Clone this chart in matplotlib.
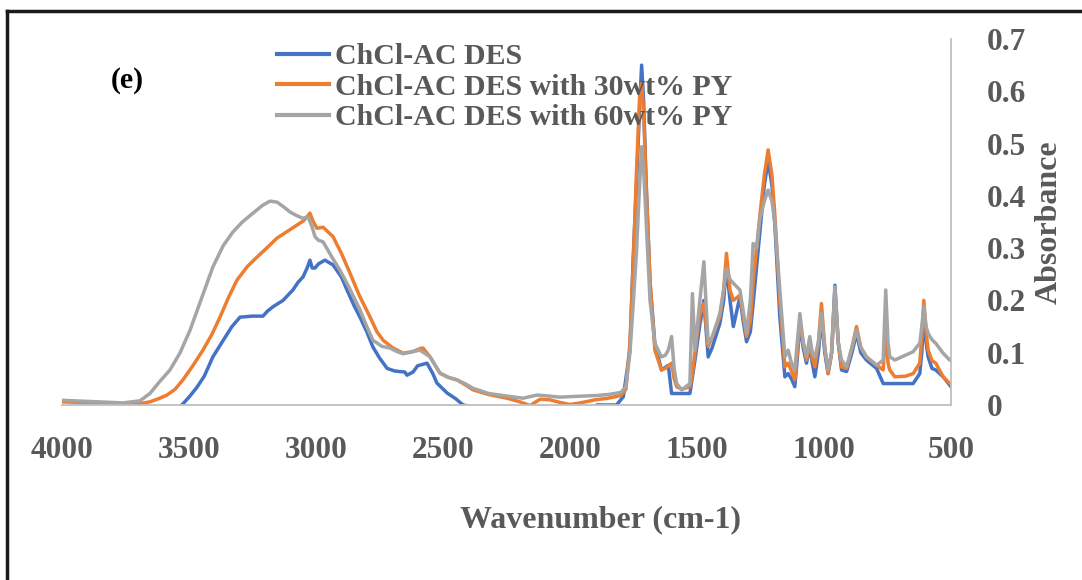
import matplotlib
matplotlib.use("Agg")
import matplotlib.pyplot as plt
from matplotlib.lines import Line2D
import numpy as np

# ---------- data
wn_blue = [4000, 3600, 3528, 3500, 3470, 3440, 3406, 3370, 3331, 3299, 3250,
           3209, 3190, 3169, 3130, 3091, 3070, 3051, 3035, 3024, 3015, 3004,
           2990, 2965, 2933, 2900, 2878, 2850, 2827, 2800, 2776, 2750, 2720,
           2690, 2650, 2642, 2618, 2600, 2563, 2540, 2524, 2484, 2450, 2421,
           2366, 2300, 1950, 1895, 1817, 1790, 1764, 1751, 1738, 1725, 1718,
           1710, 1701, 1685, 1666, 1640, 1613, 1600, 1567, 1528, 1508, 1490,
           1473, 1456, 1440, 1410, 1395, 1384, 1370, 1357, 1331, 1318, 1305,
           1290, 1279, 1253, 1235, 1220, 1205, 1193, 1174, 1154, 1141, 1128,
           1115, 1105, 1095, 1082, 1069, 1056, 1046, 1036, 1022, 1010, 997,
           984, 970, 957, 944, 931, 911, 890, 872, 855, 833, 793, 775, 767,
           721, 649, 623, 615, 607, 598, 590, 575, 560, 531, 505, 500]
abs_blue = [-0.04, -0.03, 0.0, 0.015, 0.033, 0.055, 0.092, 0.12, 0.15, 0.168,
            0.17, 0.17, 0.18, 0.188, 0.2, 0.22, 0.235, 0.245, 0.262, 0.277,
            0.262, 0.262, 0.27, 0.277, 0.268, 0.245, 0.22, 0.19, 0.168, 0.14,
            0.111, 0.09, 0.07, 0.065, 0.063, 0.057, 0.063, 0.075, 0.08, 0.06,
            0.042, 0.023, 0.012, 0.0, -0.005, -0.03, -0.03, 0.0, 0.0, 0.016,
            0.105, 0.284, 0.424, 0.58, 0.65, 0.58, 0.437, 0.233, 0.118, 0.067,
            0.076, 0.022, 0.022, 0.022, 0.086, 0.15, 0.2, 0.092, 0.11, 0.156,
            0.2, 0.265, 0.2, 0.15, 0.207, 0.16, 0.121, 0.14, 0.194, 0.328,
            0.42, 0.468, 0.42, 0.341, 0.169, 0.054, 0.06, 0.05, 0.035, 0.09,
            0.156, 0.11, 0.08, 0.112, 0.08, 0.054, 0.1, 0.169, 0.1, 0.06, 0.1,
            0.229, 0.12, 0.067, 0.064, 0.1, 0.137, 0.1, 0.086, 0.07, 0.05,
            0.041, 0.041, 0.041, 0.06, 0.1, 0.169, 0.12, 0.092, 0.07, 0.067,
            0.054, 0.038, 0.035]

wn_orange = [4000, 3850, 3744, 3690, 3654, 3620, 3587, 3555, 3524, 3485, 3445,
             3410, 3378, 3345, 3311, 3270, 3232, 3190, 3154, 3110, 3075, 3050,
             3035, 3024, 3010, 2996, 2972, 2955, 2933, 2900, 2866, 2830, 2787,
             2760, 2736, 2700, 2657, 2620, 2590, 2579, 2551, 2512, 2480, 2445,
             2410, 2382, 2320, 2248, 2197, 2157, 2118, 2080, 2040, 2000, 1960,
             1900, 1850, 1800, 1780, 1764, 1751, 1738, 1725, 1718, 1710, 1701,
             1685, 1666, 1640, 1625, 1600, 1590, 1580, 1560, 1528, 1518, 1508,
             1490, 1473, 1456, 1440, 1410, 1395, 1384, 1370, 1357, 1331, 1318,
             1305, 1290, 1279, 1253, 1235, 1220, 1205, 1193, 1174, 1154, 1141,
             1128, 1115, 1105, 1095, 1082, 1069, 1056, 1046, 1036, 1022, 1010,
             997, 984, 970, 957, 944, 931, 911, 890, 872, 855, 833, 793, 767,
             757, 748, 741, 721, 680, 649, 623, 615, 607, 598, 590, 575, 560,
             531, 505, 500]
abs_orange = [0.006, 0.004, 0.0, 0.003, 0.006, 0.012, 0.019, 0.03, 0.048,
              0.075, 0.105, 0.135, 0.168, 0.205, 0.239, 0.265, 0.283, 0.302,
              0.319, 0.333, 0.344, 0.352, 0.36, 0.367, 0.35, 0.338, 0.34,
              0.332, 0.322, 0.29, 0.252, 0.21, 0.168, 0.14, 0.124, 0.11, 0.099,
              0.102, 0.108, 0.109, 0.092, 0.061, 0.053, 0.048, 0.038, 0.029,
              0.02, 0.013, 0.006, -0.001, 0.011, 0.01, 0.005, 0.001, 0.004,
              0.01, 0.013, 0.018, 0.03, 0.12, 0.271, 0.45, 0.6, 0.615, 0.56,
              0.43, 0.24, 0.105, 0.067, 0.07, 0.08, 0.05, 0.035, 0.03, 0.035,
              0.06, 0.1, 0.17, 0.194, 0.112, 0.13, 0.169, 0.22, 0.29, 0.22,
              0.2, 0.21, 0.17, 0.131, 0.16, 0.233, 0.36, 0.44, 0.488, 0.44,
              0.36, 0.2, 0.073, 0.08, 0.065, 0.048, 0.1, 0.163, 0.12, 0.086,
              0.118, 0.09, 0.073, 0.12, 0.194, 0.11, 0.06, 0.1, 0.213, 0.12,
              0.073, 0.07, 0.11, 0.15, 0.11, 0.092, 0.076, 0.067, 0.15, 0.08,
              0.067, 0.054, 0.055, 0.06, 0.08, 0.13, 0.2, 0.14, 0.105, 0.085,
              0.08, 0.054, 0.041, 0.04]

wn_gray = [4000, 3900, 3760, 3693, 3654, 3615, 3575, 3535, 3496, 3450, 3406,
           3365, 3327, 3290, 3248, 3210, 3181, 3154, 3130, 3102, 3075, 3051,
           3031, 3015, 3004, 2990, 2972, 2940, 2906, 2870, 2827, 2800, 2776,
           2740, 2709, 2680, 2657, 2620, 2591, 2551, 2512, 2480, 2445, 2410,
           2382, 2320, 2248, 2185, 2130, 2080, 2040, 2000, 1950, 1900, 1850,
           1800, 1780, 1764, 1751, 1738, 1728, 1718, 1710, 1701, 1685, 1666,
           1640, 1625, 1613, 1600, 1590, 1580, 1560, 1528, 1518, 1508, 1490,
           1473, 1456, 1440, 1410, 1395, 1384, 1370, 1357, 1331, 1318, 1305,
           1290, 1279, 1265, 1253, 1235, 1220, 1205, 1193, 1174, 1154, 1141,
           1128, 1115, 1105, 1095, 1082, 1069, 1056, 1046, 1036, 1022, 1010,
           997, 984, 970, 957, 944, 931, 911, 890, 872, 855, 833, 793, 767,
           757, 748, 741, 721, 680, 649, 623, 615, 607, 598, 590, 575, 560,
           531, 505, 500]
abs_gray = [0.009, 0.007, 0.004, 0.008, 0.022, 0.045, 0.067, 0.1, 0.143,
            0.205, 0.264, 0.305, 0.331, 0.35, 0.367, 0.382, 0.39, 0.388, 0.38,
            0.369, 0.362, 0.357, 0.36, 0.34, 0.322, 0.315, 0.312, 0.285,
            0.258, 0.225, 0.182, 0.15, 0.124, 0.112, 0.109, 0.102, 0.098,
            0.102, 0.105, 0.092, 0.061, 0.053, 0.048, 0.04, 0.032, 0.022,
            0.017, 0.013, 0.019, 0.017, 0.015, 0.016, 0.017, 0.018, 0.02,
            0.024, 0.035, 0.1, 0.194, 0.296, 0.4, 0.494, 0.45, 0.36, 0.2,
            0.118, 0.092, 0.095, 0.105, 0.131, 0.07, 0.041, 0.029, 0.041,
            0.213, 0.105, 0.194, 0.274, 0.118, 0.13, 0.175, 0.22, 0.261, 0.24,
            0.233, 0.22, 0.18, 0.137, 0.2, 0.309, 0.3, 0.354, 0.39, 0.411,
            0.39, 0.347, 0.22, 0.092, 0.105, 0.08, 0.067, 0.12, 0.175, 0.12,
            0.092, 0.131, 0.1, 0.092, 0.12, 0.175, 0.11, 0.067, 0.1, 0.226,
            0.12, 0.086, 0.073, 0.11, 0.143, 0.11, 0.092, 0.076, 0.086, 0.22,
            0.12, 0.092, 0.086, 0.095, 0.102, 0.118, 0.15, 0.188, 0.15, 0.137,
            0.125, 0.118, 0.099, 0.086, 0.085]

series_labels = ["ChCl-AC DES", "ChCl-AC DES with 30wt% PY",
                 "ChCl-AC DES with 60wt% PY"]
series_colors = ["#4472C4", "#ED7D31", "#A5A5A5"]
x_ticks = [4000, 3500, 3000, 2500, 2000, 1500, 1000, 500]
y_ticks = [0, 0.1, 0.2, 0.3, 0.4, 0.5, 0.6, 0.7]

# ---------- figure
txt_col = "#595959"
plt.rcParams["font.family"] = ["Liberation Serif", "DejaVu Serif"]
plt.rcParams["font.weight"] = "bold"

fig = plt.figure(figsize=(10.82, 5.80), dpi=100)
ax = fig.add_axes([62 / 1082, 175 / 580, 889 / 1082, 366 / 580])

for wn, ab, lab, col in zip([wn_blue, wn_orange, wn_gray],
                            [abs_blue, abs_orange, abs_gray],
                            series_labels, series_colors):
    ax.plot(wn, ab, color=col, lw=2.5, label=lab, solid_joinstyle="round")

ax.set_xlim(4000, 500)
ax.set_ylim(0, 0.7)
ax.set_xticks(x_ticks)
ax.set_xticklabels([str(t) for t in x_ticks])
ax.set_yticks(y_ticks)
ax.set_yticklabels(["0" if t == 0 else "%.1f" % t for t in y_ticks])

ax.yaxis.tick_right()
ax.yaxis.set_label_position("right")
ax.tick_params(axis="both", length=0, labelsize=22.5, labelcolor=txt_col)
ax.tick_params(axis="x", pad=22)
ax.tick_params(axis="y", pad=26)

for side in ["top", "left"]:
    ax.spines[side].set_visible(False)
for side in ["right", "bottom"]:
    ax.spines[side].set_color("#BFBFBF")
    ax.spines[side].set_linewidth(1.3)

ax.set_xlabel("Wavenumber (cm-1)", fontsize=23, color=txt_col,
              fontweight="bold", va="center")
ax.xaxis.set_label_coords(0.606, -0.314)
ax.set_ylabel("Absorbance", fontsize=23, color=txt_col, fontweight="bold",
              rotation=90, labelpad=6)

leg = ax.legend(loc="upper left", bbox_to_anchor=(277 / 1082, 537 / 580),
                bbox_transform=fig.transFigure, frameon=False,
                handlelength=1.75, handletextpad=0.2, labelspacing=0.12,
                borderpad=0, borderaxespad=0,
                prop={"family": "Liberation Serif", "weight": "bold",
                      "size": 21.5})
for t in leg.get_texts():
    t.set_color(txt_col)
for h in leg.get_lines():
    h.set_linewidth(3)

fig.text(127 / 1082, 1 - 80 / 580, "(e)", ha="center", va="center",
         fontsize=21.5, fontweight="bold", color="black")

# outer frame (top and left edges show in the reference)
fig.add_artist(Line2D([7 / 1082, 1], [1 - 11 / 580, 1 - 11 / 580],
                      color="#1a1a1a", lw=2.5, transform=fig.transFigure))
fig.add_artist(Line2D([7 / 1082, 7 / 1082], [0, 1 - 11 / 580],
                      color="#1a1a1a", lw=2.5, transform=fig.transFigure))

fig.savefig("out.png", dpi=100)
